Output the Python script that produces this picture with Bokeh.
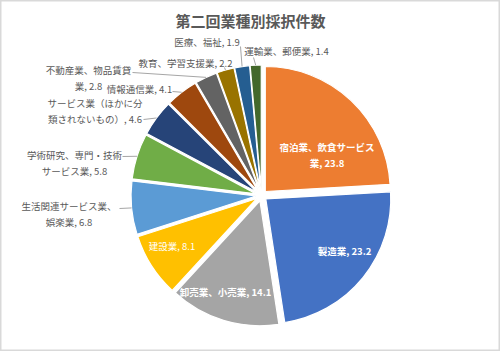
import math
from bokeh.plotting import figure
from bokeh.models import ColumnDataSource, Range1d
from bokeh.core.properties import value
from bokeh.embed import file_html
from bokeh.resources import INLINE

# ---- data ----
title = "第二回業種別採択件数"
categories = [
    "宿泊業、飲食サービス業", "製造業", "卸売業、小売業", "建設業",
    "生活関連サービス業、娯楽業", "学術研究、専門・技術サービス業",
    "サービス業（ほかに分類されないもの）", "情報通信業",
    "不動産業、物品賃貸業", "教育、学習支援業", "医療、福祉", "運輸業、郵便業",
]
values = [23.8, 23.2, 14.1, 8.1, 6.8, 5.8, 4.6, 4.1, 2.8, 2.2, 1.9, 1.4]
colors = ["#ED7D31", "#4472C4", "#A5A5A5", "#FFC000", "#5B9BD5", "#70AD47",
          "#264478", "#9E480E", "#636363", "#997300", "#255E91", "#43682B"]

# ---- layout (pixels, y from top) ----
W, H = 500, 351
CX, CY, R, EXPLODE = 261, 195, 125, 5.5
FONT = "Noto Sans CJK JP"
LINE_H = 16
# label: (center x, first-line y, split index or None, inside?, bold?)
label_layout = [
    (326.5, 146, 10, True, True),
    (344, 250, None, True, True),
    (225, 291, None, True, True),
    (171.5, 245, None, True, False),
    (68.5, 205, 10, False, False),
    (74, 154, 10, False, False),
    (94.5, 102, 10, False, False),
    (139, 88, None, False, False),
    (88, 69, 9, False, False),
    (185, 62, None, False, False),
    (206.5, 41, None, False, False),
    (286, 50, None, False, False),
]
# leader line start points near labels (None = no leader)
leader_starts = [None, None, None, None, (119, 208), (122, 156), (143, 119),
                 (172, 91), (132, 72), (224, 67), (240, 46), (253, 57)]


def fy(y_pix):
    return H - y_pix


total = sum(values)
xs, ys, starts, ends, mids = [], [], [], [], []
cum = 0.0
for v in values:
    t0 = cum / total * 2 * math.pi
    cum += v
    t1 = cum / total * 2 * math.pi
    tm = (t0 + t1) / 2
    mids.append(tm)
    xs.append(CX + EXPLODE * math.sin(tm))
    ys.append(fy(CY) + EXPLODE * math.cos(tm))
    starts.append(math.pi / 2 - t0)
    ends.append(math.pi / 2 - t1)

src = ColumnDataSource(dict(x=xs, y=ys, start=starts, end=ends, color=colors))

p = figure(width=W, height=H, x_range=Range1d(0, W), y_range=Range1d(0, H),
           output_backend="svg", toolbar_location=None, min_border=0,
           x_axis_type=None, y_axis_type=None)
p.grid.visible = False
p.outline_line_color = "#D9D9D9"
p.outline_line_width = 2
p.background_fill_color = "white"
p.border_fill_color = "white"

p.wedge(x="x", y="y", radius=R, start_angle="start", end_angle="end",
        direction="clock", fill_color="color", line_color="white",
        line_width=1.2, source=src)

# leader lines
lx0, ly0, lx1, ly1 = [], [], [], []
for i, s in enumerate(leader_starts):
    if s is None:
        continue
    tm = mids[i]
    lx0.append(s[0])
    ly0.append(fy(s[1]))
    lx1.append(CX + (R + EXPLODE) * math.sin(tm))
    ly1.append(fy(CY) + (R + EXPLODE) * math.cos(tm))
p.segment(x0=lx0, y0=ly0, x1=lx1, y1=ly1, line_color="#A6A6A6", line_width=1)

# labels
tx, ty, tt, tc, ts = [], [], [], [], []
for cat, v, (x, y, split, inside, bold) in zip(categories, values, label_layout):
    label = f"{cat}, {v}"
    lines = [label] if split is None else [label[:split], label[split:]]
    for k, line in enumerate(lines):
        tx.append(x)
        ty.append(fy(y + k * LINE_H))
        tt.append(line)
        tc.append("white" if inside else "#595959")
        ts.append("bold" if bold else "normal")
lsrc = ColumnDataSource(dict(x=tx, y=ty, text=tt, color=tc, style=ts))
p.text(x="x", y="y", text="text", text_color="color", text_font_style="style",
       text_font=value(FONT), text_font_size="9.5px", text_align="center",
       text_baseline="middle", source=lsrc)

p.text(x=[W / 2], y=[fy(20)], text=[title], text_font=value(FONT),
       text_font_size="15px", text_font_style="bold", text_color="#595959",
       text_align="center", text_baseline="middle")

open("out.html", "w").write(file_html(p, INLINE))
